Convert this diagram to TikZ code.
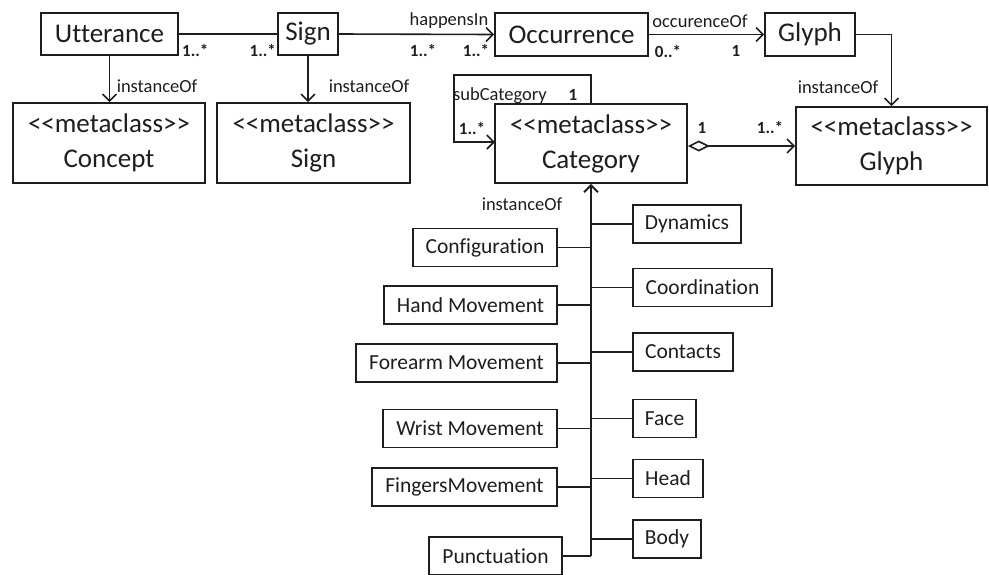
\documentclass[tikz,border=0pt]{standalone}
\usepackage{fontspec}
\setmainfont{Carlito}[Ligatures={TeXOff,NoCommon}]
\usetikzlibrary{arrows.meta}
\definecolor{ink}{HTML}{1E1E1E}
\begin{document}
\begin{tikzpicture}[x=1pt,y=-1pt,
  every node/.style={text=ink},
  box/.style={draw=ink, line width=1.6pt, inner sep=0pt, align=center,
    font=\fontsize{27}{35}\selectfont},
  sbox/.style={draw=ink, line width=1.6pt, inner sep=0pt, minimum height=38pt,
    font=\fontsize{21.5}{26}\selectfont},
  lbl/.style={inner sep=0pt, font=\fontsize{18.5}{22}\selectfont},
  mult/.style={inner sep=0pt, font=\fontsize{17}{20}\selectfont\bfseries},
  conn/.style={draw=ink, line width=1.6pt},
  uml/.style={conn, -{Straight Barb[length=7pt,width=14pt,line width=1.6pt]}},
  agg/.style={conn, {Diamond[open,length=22pt,width=11pt,line width=1.6pt]}-{Straight Barb[length=7pt,width=14pt,line width=1.6pt]}},
]
\clip (0,0) rectangle (989,574);
\fill[white] (0,0) rectangle (989,574);

% top row of classes
\node[box, minimum width=137pt, minimum height=42pt] (utt) at (109.5,34) {Utterance};
\node[box, minimum width=60pt,  minimum height=42pt] (sign) at (308,34) {Sign};
\node[box, minimum width=153pt, minimum height=43pt] (occ) at (571.5,34.5) {Occurrence};
\node[box, minimum width=90pt,  minimum height=43pt] (glyph) at (810,34.5) {Glyph};

% metaclasses
\node[box, minimum width=192pt, minimum height=80pt] (mconcept) at (109,143) {<<metaclass>>\\Concept};
\node[box, minimum width=193pt, minimum height=80pt] (msign) at (313.5,143) {<<metaclass>>\\Sign};
\node[box, minimum width=192pt, minimum height=79pt] (cat) at (591,143.5) {<<metaclass>>\\Category};
\node[box, minimum width=191pt, minimum height=78pt] (mglyph) at (891.5,146) {<<metaclass>>\\Glyph};

% associations along the top
\draw[conn] (utt.east) -- (sign.west);
\node[mult, anchor=west] (m1) at (182,50) {1..*};
\node[mult, anchor=east] (m2) at (276,50) {1..*};

\draw[uml] (sign.east) -- (occ.west);
\node[lbl] (hap) at (449,21) {happensIn};
\node[mult] (m3) at (423,50) {1..*};
\node[mult] (m4) at (476,50) {1..*};

\draw[uml] (occ.east) -- (glyph.west);
\node[lbl] (occof) at (700,21) {occurenceOf};
\node[mult] (m5) at (668,51) {0..*};
\node[mult] (m6) at (736,51) {1};

% instanceOf links to metaclasses
\draw[uml] (utt.south) -- (utt.south |- mconcept.north);
\node[lbl] (io1) at (157,86) {instanceOf};
\draw[uml] (sign.south) -- (sign.south |- msign.north);
\node[lbl] (io2) at (369,86) {instanceOf};
\draw[uml] (glyph.east) -| (mglyph.north);
\node[lbl] (io3) at (838,87) {instanceOf};

% aggregation Category -> Glyph
\draw[agg] (cat.east |- mglyph.west) -- (mglyph.west);
\node[mult] (m7) at (702,128) {1};
\node[mult] (m8) at (770,127) {1..*};

% subCategory self association
\coordinate (lpR) at (591,75);
\coordinate (lpL) at (454,75);
\coordinate (lpIn) at (495,142);
\draw[uml] (lpR |- cat.north) -- (lpR) -- (lpL) |- (lpIn);
\node[lbl] (sub) at (500,96) {subCategory};
\node[mult] (m9) at (573,95) {1};
\node[mult] (m10) at (472,128) {1..*};

% category instances, left column
\node[sbox, minimum width=144pt] (cfg) at (485,247.5) {Configuration};
\node[sbox, minimum width=173pt] (hand) at (470.5,305) {Hand Movement};
\node[sbox, minimum width=201pt] (fore) at (456.5,363) {Forearm Movement};
\node[sbox, minimum width=174pt] (wrist) at (470,428.5) {Wrist Movement};
\node[sbox, minimum width=185pt] (fing) at (464.5,487) {FingersMovement};
\node[sbox, minimum width=133pt] (punc) at (495.5,556) {Punctuation};

% category instances, right column
\node[sbox, minimum width=108pt] (dyn) at (687,224) {Dynamics};
\node[sbox, minimum width=139pt] (coord) at (702.5,287.5) {Coordination};
\node[sbox, minimum width=100pt] (cont) at (683,352) {Contacts};
\node[sbox, minimum width=63pt]  (face) at (664.5,418.5) {Face};
\node[sbox, minimum width=70pt]  (head) at (668,478.5) {Head};
\node[sbox, minimum width=68pt]  (body) at (667,539) {Body};

% trunk into Category
\coordinate (trunk) at (cat.south |- punc.east);
\draw[conn, line width=2pt, -{Straight Barb[length=7pt,width=14pt,line width=2pt]}] (trunk) -- (cat.south);
\node[lbl] (io4) at (522,204) {instanceOf};

\foreach \n in {cfg,hand,fore,wrist,fing,punc}
  \draw[conn] (\n.east) -- (\n.east -| trunk);
\foreach \n in {dyn,coord,cont,face,head,body}
  \draw[conn] (\n.west) -- (\n.west -| trunk);
\end{tikzpicture}
\end{document}
